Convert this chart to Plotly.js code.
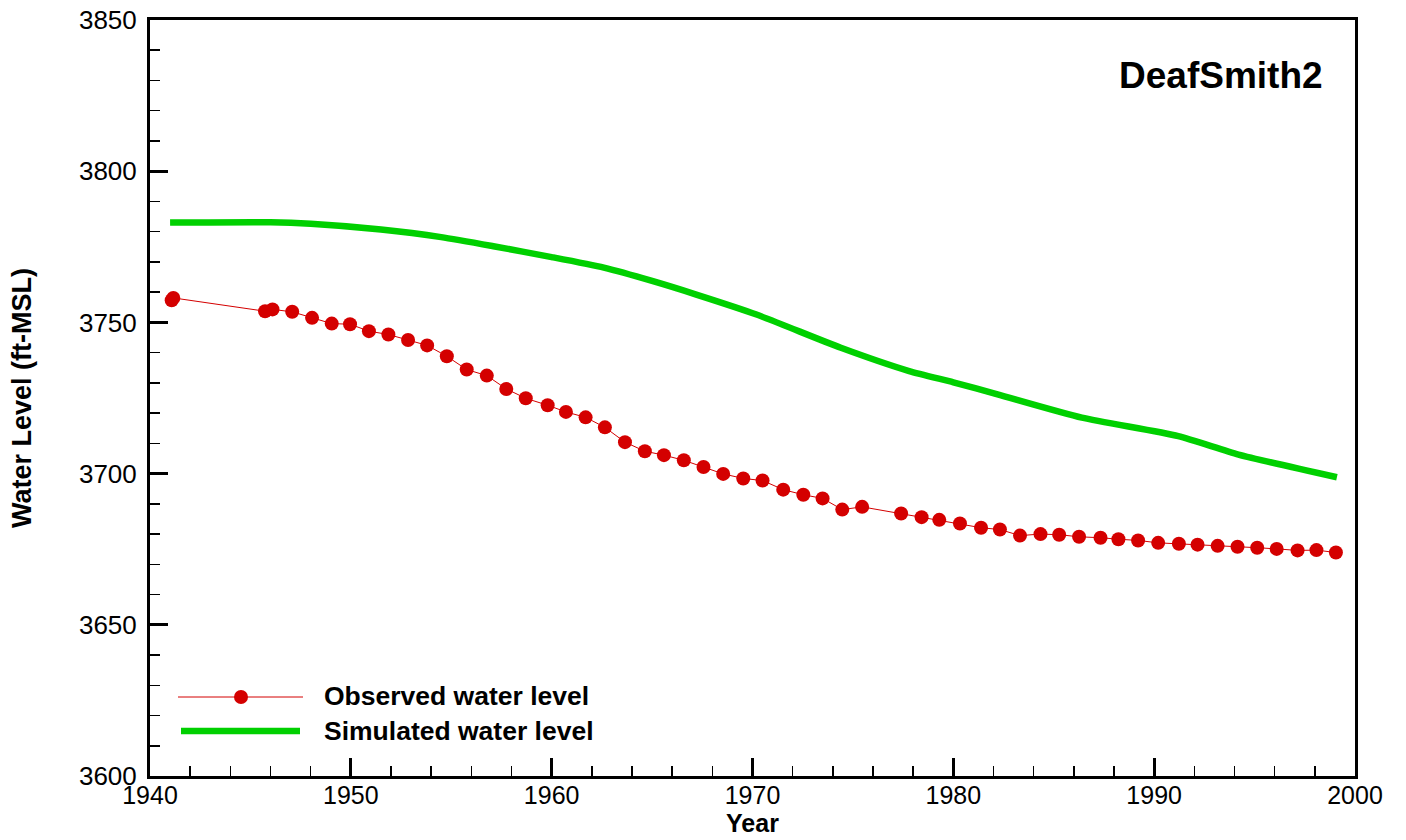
<!DOCTYPE html>
<html>
<head>
<meta charset="utf-8">
<script src="https://cdn.plot.ly/plotly-3.0.1.min.js"></script>
<style>html,body{margin:0;padding:0;background:#fff;}#chart{width:1406px;height:840px;}</style>
</head>
<body>
<div id="chart"></div>
<script>
// Observed water level (red dots)
const obsYear = [1941.08, 1941.16, 1945.73, 1946.1, 1947.08, 1948.07, 1949.05, 1949.96, 1950.9, 1951.87,
  1952.85, 1953.8, 1954.78, 1955.77, 1956.77, 1957.74, 1958.71, 1959.8, 1960.71, 1961.69,
  1962.65, 1963.65, 1964.64, 1965.59, 1966.58, 1967.56, 1968.54, 1969.54, 1970.5, 1971.53,
  1972.53, 1973.49, 1974.47, 1975.46, 1977.4, 1978.42, 1979.3, 1980.33, 1981.38, 1982.32,
  1983.32, 1984.34, 1985.27, 1986.26, 1987.33, 1988.22, 1989.2, 1990.2, 1991.23, 1992.16,
  1993.16, 1994.15, 1995.13, 1996.1, 1997.14, 1998.08, 1999.05];
const obsLevel = [3757.3, 3758.1, 3753.7, 3754.3, 3753.5, 3751.5, 3749.6, 3749.4, 3747.1, 3746.0,
  3744.2, 3742.4, 3738.8, 3734.4, 3732.4, 3728.0, 3724.9, 3722.6, 3720.4, 3718.6,
  3715.3, 3710.4, 3707.4, 3706.1, 3704.4, 3702.2, 3699.9, 3698.4, 3697.7, 3694.7,
  3693.0, 3691.8, 3688.1, 3689.0, 3686.8, 3685.6, 3684.7, 3683.5, 3682.1, 3681.5,
  3679.5, 3680.0, 3679.8, 3679.1, 3678.8, 3678.3, 3677.9, 3677.1, 3676.8, 3676.5,
  3676.1, 3675.8, 3675.5, 3675.1, 3674.6, 3674.7, 3673.9];

// Simulated water level (green line)
const simYear = [1941.0, 1946.0, 1948.0, 1951.5, 1954.5, 1957.1, 1960.0, 1962.6, 1965.0, 1967.2,
  1970.2, 1974.4, 1977.8, 1980.0, 1982.2, 1986.4, 1991.2, 1994.2, 1999.1];
const simLevel = [3783.0, 3783.1, 3782.6, 3780.7, 3778.2, 3775.2, 3771.6, 3768.1, 3763.7, 3759.2,
  3752.6, 3741.6, 3733.9, 3730.2, 3726.2, 3718.5, 3712.4, 3706.3, 3698.8];

const xTickVals = [1940, 1950, 1960, 1970, 1980, 1990, 2000];
const yTickVals = [3600, 3650, 3700, 3750, 3800, 3850];

const chartTitle = 'DeafSmith2';
const legendLabels = ['Observed water level', 'Simulated water level'];
const xTitle = 'Year';
const yTitle = 'Water Level (ft-MSL)';

const FONT = 'Liberation Sans, Arial, Helvetica, sans-serif';
const RED = '#d40000';
const GREEN = '#00d000';

const traces = [
  {
    x: simYear, y: simLevel, type: 'scatter', mode: 'lines',
    line: {color: GREEN, width: 6.5, shape: 'spline', smoothing: 0.6},
    name: legendLabels[1], showlegend: false, hoverinfo: 'skip'
  },
  {
    x: obsYear, y: obsLevel, type: 'scatter', mode: 'lines+markers',
    line: {color: RED, width: 1},
    marker: {color: RED, size: 14, line: {width: 0}},
    name: legendLabels[0], showlegend: false, hoverinfo: 'skip'
  }
];

// plot area pixel geometry (for custom legend placement)
const L = 150, R = 1355, T = 20, B = 776;
const px = v => (v - L) / (R - L);
const py = v => (B - v) / (B - T);

const layout = {
  width: 1406, height: 840,
  margin: {l: L, r: 1406 - R, t: T, b: 840 - B},
  paper_bgcolor: '#fff', plot_bgcolor: '#fff',
  font: {family: FONT, color: '#000', size: 26},
  showlegend: false,
  xaxis: {
    range: [1940, 2000], tickvals: xTickVals, ticktext: xTickVals.map(String),
    showgrid: false, zeroline: false,
    showline: true, linewidth: 3, linecolor: '#000', mirror: true,
    ticks: 'inside', ticklen: 18, tickwidth: 3, tickcolor: '#000',
    minor: {dtick: 2, ticks: 'inside', ticklen: 10, tickwidth: 1.5, tickcolor: '#000', showgrid: false},
    tickfont: {family: FONT, size: 25, color: '#000'},
    ticklabelstandoff: -5,
    title: {text: '<b>' + xTitle + '</b>', font: {family: FONT, size: 25, color: '#000'}, standoff: 4}
  },
  yaxis: {
    range: [3600, 3850], tickvals: yTickVals, ticktext: yTickVals.map(String),
    showgrid: false, zeroline: false,
    showline: true, linewidth: 3, linecolor: '#000', mirror: true,
    ticks: 'inside', ticklen: 18, tickwidth: 3, tickcolor: '#000',
    minor: {dtick: 10, ticks: 'inside', ticklen: 10, tickwidth: 1.5, tickcolor: '#000', showgrid: false},
    tickfont: {family: FONT, size: 26, color: '#000'},
    ticklabelstandoff: 5,
    title: {text: '<b>' + yTitle + '</b>', font: {family: FONT, size: 27, color: '#000'}, standoff: 40}
  },
  shapes: [
    {type: 'line', xref: 'paper', yref: 'paper', x0: px(178), x1: px(303), y0: py(697), y1: py(697),
     line: {color: RED, width: 1}},
    {type: 'circle', xref: 'paper', yref: 'paper', xsizemode: 'pixel', ysizemode: 'pixel',
     xanchor: px(241), yanchor: py(697), x0: -7, x1: 7, y0: -7, y1: 7,
     fillcolor: RED, line: {width: 0}},
    {type: 'line', xref: 'paper', yref: 'paper', x0: px(181), x1: px(300), y0: py(731), y1: py(731),
     line: {color: GREEN, width: 6.5}}
  ],
  annotations: [
    {text: '<b>' + chartTitle + '</b>', xref: 'paper', yref: 'paper', x: px(1325), y: py(75),
     xanchor: 'right', yanchor: 'middle', showarrow: false, font: {family: FONT, size: 37, color: '#000'}},
    {text: '<b>' + legendLabels[0] + '</b>', xref: 'paper', yref: 'paper', x: px(322), y: py(696),
     xanchor: 'left', yanchor: 'middle', showarrow: false, font: {family: FONT, size: 26.5, color: '#000'}},
    {text: '<b>' + legendLabels[1] + '</b>', xref: 'paper', yref: 'paper', x: px(322), y: py(731),
     xanchor: 'left', yanchor: 'middle', showarrow: false, font: {family: FONT, size: 26.5, color: '#000'}}
  ]
};

Plotly.newPlot('chart', traces, layout, {staticPlot: true, displayModeBar: false});
</script>
</body>
</html>
